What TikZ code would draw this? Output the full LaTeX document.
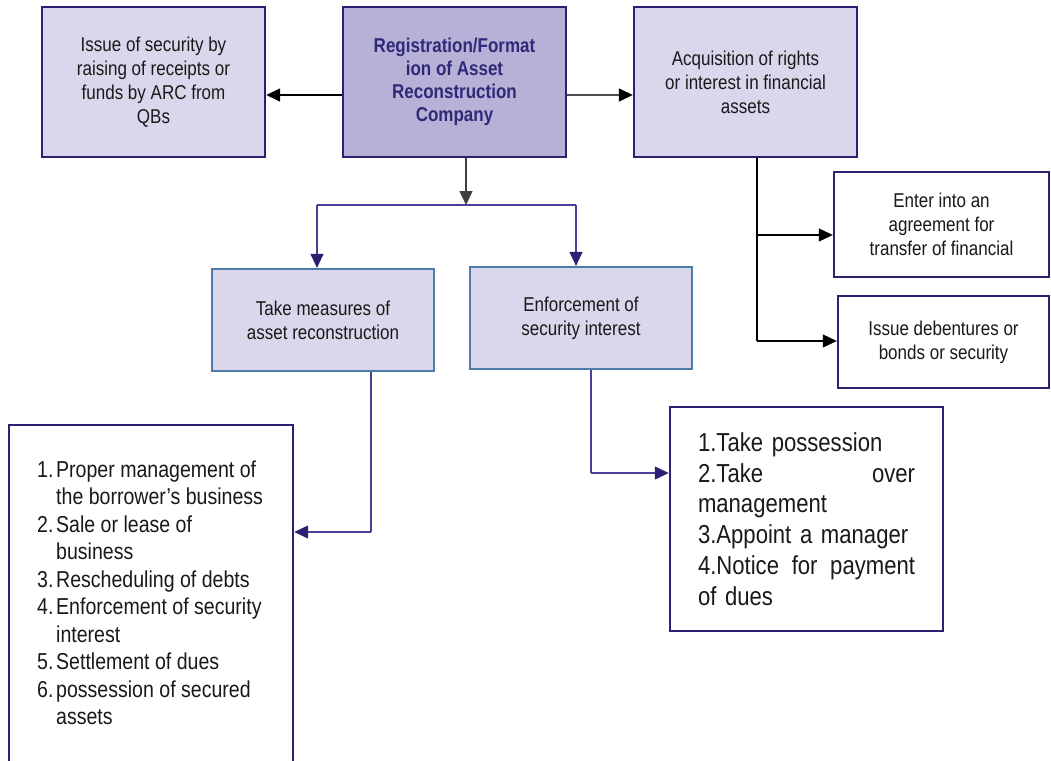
\documentclass[tikz,border=0pt]{standalone}
\usepackage{fontspec}
\setmainfont{Liberation Sans}[FakeStretch=0.85]
\usetikzlibrary{arrows.meta}
\definecolor{navy}{HTML}{2B2170}
\definecolor{lav}{HTML}{DAD6EB}
\definecolor{lavdark}{HTML}{B8B1D7}
\definecolor{steel}{HTML}{4D7BA8}
\definecolor{wire}{HTML}{4A3F96}
\definecolor{headtxt}{HTML}{2E2A78}
\begin{document}
\begin{tikzpicture}[x=1pt,y=-1pt,
  box/.style={draw=navy,line width=2.4pt,fill=lav,inner sep=0pt,align=center,
    font=\fontsize{20}{24}\selectfont,text=black!90},
  headbox/.style={box,fill=lavdark,text=headtxt,font=\fontsize{20}{23}\selectfont\bfseries},
  wbox/.style={box,fill=white},
  sbox/.style={box,draw=steel,line width=2.2pt},
  blk/.style={line width=1.6pt,black,-{Triangle[length=14pt,width=13pt]}},
  gry/.style={line width=1.4pt,black!70,-{Triangle[length=14pt,width=13pt,color=black,fill=black]}},
  thin/.style={line width=1.1pt,black},
  nav/.style={line width=1.2pt,wire,-{Triangle[length=14pt,width=13pt,color=navy,fill=navy]}},
  navline/.style={line width=1.2pt,wire}]
\useasboundingbox (0,0) rectangle (1051,760);

% top row
\node[box,minimum width=223pt,minimum height=150pt] (b1) at (153.5,82)
  {Issue of security by\\raising of receipts or\\funds by ARC from\\QBs};
\node[headbox,minimum width=223pt,minimum height=150pt] (b2) at (454.5,82)
  {Registration/Format\\ion of Asset\\Reconstruction\\Company};
\node[box,minimum width=223pt,minimum height=150pt] (b3) at (745.5,82)
  {Acquisition of rights\\or interest in financial\\assets};

% right-hand branches
\node[wbox,minimum width=215pt,minimum height=105pt] (b4) at (941.5,224.5)
  {Enter into an\\agreement for\\transfer of financial};
\node[wbox,minimum width=211pt,minimum height=92pt] (b5) at (943.5,342)
  {Issue debentures or\\bonds or security};

% second row
\node[sbox,minimum width=222pt,minimum height=102pt] (b6) at (323,320)
  {Take measures of\\asset reconstruction};
\node[sbox,minimum width=222pt,minimum height=102pt] (b7) at (581,318)
  {Enforcement of\\security interest};

% list of measures (box runs past the lower edge)
\node[box,fill=white,minimum width=284pt,minimum height=380pt] (b8) at (151,615) {};
\node[anchor=north west,inner sep=0pt,font=\fontsize{23}{27.5}\selectfont,text=black!90]
  (l8) at (37,458) {%
  \begin{tabular}{@{}l@{}l@{}}
  \makebox[19pt][l]{1.}&Proper management of\\
  &the borrower’s business\\
  \makebox[19pt][l]{2.}&Sale or lease of\\
  &business\\
  \makebox[19pt][l]{3.}&Rescheduling of debts\\
  \makebox[19pt][l]{4.}&Enforcement of security\\
  &interest\\
  \makebox[19pt][l]{5.}&Settlement of dues\\
  \makebox[19pt][l]{6.}&possession of secured\\
  &assets
  \end{tabular}};

% enforcement steps
\node[box,fill=white,minimum width=273pt,minimum height=224pt,text width=217pt,align=left,
  font=\fontsize{26}{30.8}\selectfont] (b9) at (806.5,519)
  {1.Take possession\\
   \makebox[217pt][l]{2.Take\hfill over}\\
   management\\
   3.Appoint a manager\\
   \makebox[217pt][l]{4.Notice\hfill for\hfill payment}\\
   of dues};

% connectors: top row
\draw[blk] ([yshift=-13pt]b2.west) -- ([yshift=-13pt]b1.east);
\draw[gry] ([yshift=-13pt]b2.east) -- ([yshift=-13pt]b3.east -| b3.west);

% connectors: right-hand branches
\coordinate (t4) at (757,235);
\coordinate (t5) at (757,341);
\draw[thin] (b3.south -| t4) -- (t5);
\draw[blk,line width=1.1pt] (t4) -- (t4 -| b4.west);
\draw[blk,line width=1.1pt] (t5) -- (t5 -| b5.west);

% connectors: split below the head box
\coordinate (jn) at (466,205);
\coordinate (jl) at (317,205);
\coordinate (jr) at (576,205);
\draw[blk,line width=1.4pt,black!75] (b2.south -| jn) -- (jn);
\draw[navline] (jl) -- (jr);
\draw[nav] (jl) -- (jl |- b6.north);
\draw[nav] (jr) -- (jr |- b7.north);

% connectors: second row to the lists
\coordinate (k8) at (371,532);
\draw[navline] (b6.south -| k8) -- (k8);
\draw[nav] (k8) -- (k8 -| b8.east);
\coordinate (k9) at (591,473);
\draw[navline] (b7.south -| k9) -- (k9);
\draw[nav] (k9) -- (k9 -| b9.west);
\end{tikzpicture}
\end{document}
